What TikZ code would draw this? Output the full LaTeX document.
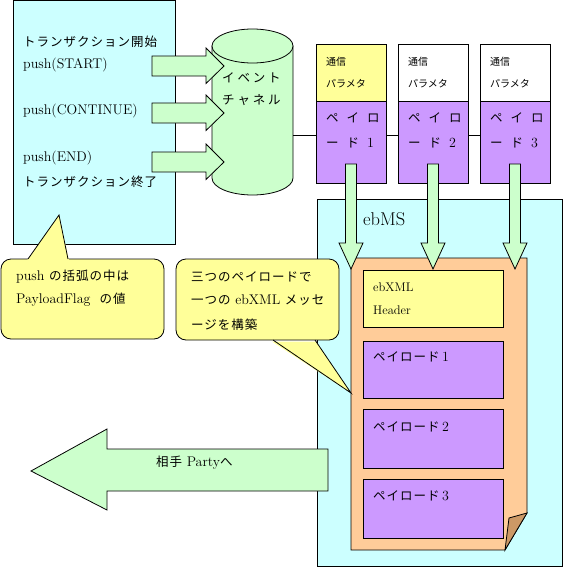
\documentclass[tikz,border=0pt]{standalone}
\usepackage{fontspec}
\newfontfamily\jp[LetterSpace=8]{Noto Sans CJK JP}
\newfontfamily\jpn{Noto Sans CJK JP}
\newcommand\jj{\fontsize{12.5}{14}\jp}
\definecolor{lcyan}{HTML}{CCFFFF}
\definecolor{lgreen}{HTML}{CCFFCC}
\definecolor{lyellow}{HTML}{FFFF99}
\definecolor{lpurple}{HTML}{CC99FF}
\definecolor{lorange}{HTML}{FFCC99}
\definecolor{ltan}{HTML}{CC9966}
\newcommand\cw[2]{\makebox[#1][l]{#2}}
\tikzset{
  bx/.style={draw=black, line width=0.8pt, inner sep=0pt, outer sep=0pt, anchor=north west},
  jt/.style={anchor=west, inner sep=0pt, font=\fontsize{12.5}{14}\jp},
  js/.style={anchor=west, inner sep=0pt, font=\fontsize{10}{12}\jpn},
  lt/.style={anchor=west, inner sep=0pt, font=\fontsize{14}{16}\selectfont},
  hd/.style={anchor=west, inner sep=0pt, font=\fontsize{12.5}{14}\selectfont},
  arr/.style={draw=black, line width=0.8pt, fill=lgreen},
  ln/.style={draw=black, line width=0.8pt},
}
\begin{document}
\begin{tikzpicture}[x=1pt,y=-1pt]
\useasboundingbox (0,0) rectangle (564,568);

% left box
\node[bx, fill=lcyan, minimum width=162pt, minimum height=244pt] (left) at (13,0.5) {};
\node[jt] (t1) at (23,42) {トランザクション開始};
\node[lt] (t2) at (23,65) {push(START)};
\node[lt] (t3) at (23,111) {push(CONTINUE)};
\node[lt] (t4) at (23,158) {push(END)};
\node[jt] (t5) at (23,182) {トランザクション終了};

% callout 1
\path[ln, fill=lyellow, rounded corners=10] (1,259) rectangle (164,339);
\fill[lyellow] (27,260.5) -- (59,215) -- (69,260.5) -- cycle;
\draw[ln] (28,259) -- (59,215) -- (68,259);
\node[lt] (c1a) at (16,277) {push {\jj の括弧の中は}};
\node[lt] (c1b) at (16,300) {PayloadFlag\ \ {\jj の値}};

% cylinder
\path[ln, fill=lgreen] (212,46) -- (212,178) arc[start angle=180, end angle=0, x radius=40.5, y radius=17] -- (293,46) -- cycle;
\path[ln, fill=lgreen] (252.5,46) ellipse[x radius=40.5, y radius=17];
\coordinate (cylR) at (293,135);
\node[anchor=west, inner sep=0pt, font=\fontsize{12.5}{14}\jpn] (ev1) at (222,78) {\cw{15.3pt}{イ}\cw{15.3pt}{ベ}\cw{15.3pt}{ン}ト};
\node[anchor=west, inner sep=0pt, font=\fontsize{12.5}{14}\jpn] (ev2) at (222,100) {\cw{15.3pt}{チ}\cw{15.3pt}{ャ}\cw{15.3pt}{ネ}ル};

% right arrows
\foreach \yc in {66,113,162} {
  \draw[arr] (152,\yc-10) -- (206,\yc-10) -- (206,\yc-18) -- (224,\yc) -- (206,\yc+17.5) -- (206,\yc+10) -- (152,\yc+10) -- cycle;
}

% top boxes
\foreach \i/\x/\f in {1/316/lyellow,2/398/white,3/480/white} {
  \node[bx, fill=\f, minimum width=70pt, minimum height=57pt] (h\i) at (\x,44) {};
  \node[bx, fill=lpurple, minimum width=70pt, minimum height=82pt] (p\i) at (\x,101) {};
  \node[js] (ha\i) at (\x+10,62) {通信};
  \node[js] (hb\i) at (\x+10,84) {パラメタ};
  \node[anchor=west, inner sep=0pt, font=\fontsize{12.5}{14}\jpn] (pa\i) at (\x+10,118) {\cw{20.5pt}{ペ}\cw{20.5pt}{イ}ロ};
  \node[anchor=west, inner sep=0pt, font=\fontsize{12.5}{14}\jpn] (pb\i) at (\x+10,143) {\cw{20.5pt}{ー}\cw{20.5pt}{ド}{\fontsize{14}{16}\rmfamily\i}};
}
\draw[ln] (cylR) -- (cylR -| p1.west);
\draw[ln] (cylR -| p1.east) -- (cylR -| p2.west);
\draw[ln] (cylR -| p2.east) -- (cylR -| p3.west);

% ebMS
\node[bx, fill=lcyan, minimum width=245pt, minimum height=367pt] (ebms) at (317,199) {};
\node[anchor=west, inner sep=0pt, font=\fontsize{18.5}{21}\selectfont] (ebl) at (363,219) {ebMS};
\path[ln, fill=lorange] (351,258) -- (527,258) -- (527,513) -- (505,550) -- (351,550) -- cycle;
\path[ln, fill=ltan] (527,513) -- (505,550) -- (509,518) -- cycle;
\node[bx, fill=lyellow, minimum width=140pt, minimum height=57pt] (hdr) at (363,270) {};
\node[bx, fill=lpurple, minimum width=140pt, minimum height=57pt] (q1) at (363,341) {};
\node[bx, fill=lpurple, minimum width=140pt, minimum height=59pt] (q2) at (363,409) {};
\node[bx, fill=lpurple, minimum width=140pt, minimum height=59pt] (q3) at (363,479) {};
\node[hd] (hx) at (373,287) {ebXML};
\node[hd] (hh) at (373,310) {Header};
\node[lt] (qt1) at (373,357) {{\jj ペイロード}\,1};
\node[lt] (qt2) at (373,427) {{\jj ペイロード}\,2};
\node[lt] (qt3) at (373,496) {{\jj ペイロード}\,3};

% down arrows
\foreach \xc in {351,433,515} {
  \draw[arr] (\xc-5.5,164) -- (\xc-5.5,243) -- (\xc-12,243) -- (\xc,269) -- (\xc+12,243) -- (\xc+5.5,243) -- (\xc+5.5,164) -- cycle;
}

% big left arrow
\draw[arr] (328,449) -- (107,449) -- (107,429) -- (31,471) -- (107,510) -- (107,491) -- (328,491) -- cycle;
\node[lt] (party) at (156,463) {{\jj 相手} Party{\jj へ}};

% callout 2
\path[ln, fill=lyellow, rounded corners=10] (176,259) rectangle (339,340);
\fill[lyellow] (272,341.5) -- (351,393) -- (316,341.5) -- cycle;
\draw[ln] (273,340) -- (351,393) -- (315,340);
\node[jt] (c2a) at (191,277) {三つのペイロードで};
\node[lt] (c2b) at (191,300) {{\jj 一つの} ebXML {\jj メッセ}};
\node[jt] (c2c) at (191,325) {ージを構築};
\end{tikzpicture}
\end{document}
